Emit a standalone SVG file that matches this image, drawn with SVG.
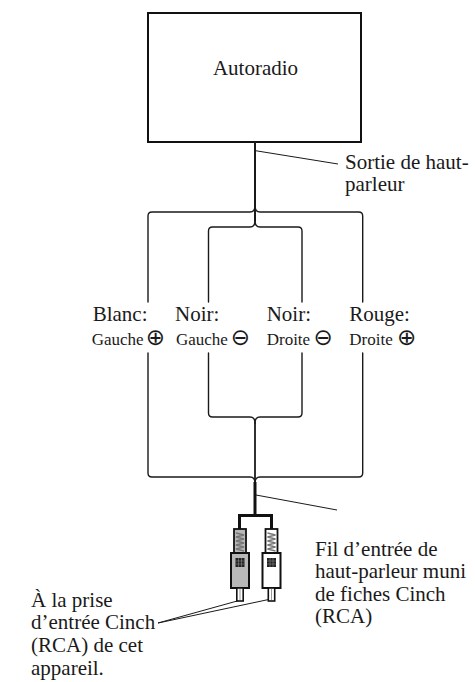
<svg xmlns="http://www.w3.org/2000/svg" width="475" height="682" viewBox="0 0 475 682">
<style>
text{font-family:"Liberation Serif","Times New Roman",serif;font-size:21px;fill:#1a1a1a}
.sm{font-size:17px}
.sym{font-family:"DejaVu Sans",sans-serif;font-size:23px}
.w{fill:none;stroke:#1a1a1a;stroke-width:1.4;stroke-linejoin:round;stroke-linecap:round}
.lead{fill:none;stroke:#1a1a1a;stroke-width:1}
</style>
<defs>
<g id="plugShape">
<rect x="-6" y="0" width="12" height="24" stroke="#111" stroke-width="1.8"/>
<path d="M-4,4 L4,6 L-4,8 L4,10 L-4,12 L4,14 L-4,16 L4,18 L-4,20 L4,22" fill="none" stroke="#777" stroke-width="1.4"/>
<path d="M-9,24 H9 V59 H-9 Z" stroke="#111" stroke-width="2"/>
<rect x="-4.5" y="29" width="9" height="9" fill="#222"/>
<path d="M-4.5,32 H4.5 M-4.5,35 H4.5 M-1.5,29 V38 M1.5,29 V38" stroke="#888" stroke-width="0.6"/>
<rect x="-3.2" y="59" width="6.4" height="13" fill="#fff" stroke="#111" stroke-width="1.6"/>
<line x1="0" y1="60" x2="0" y2="71" stroke="#999" stroke-width="1"/>
</g>
</defs>

<g id="autoradio">
<rect x="148" y="13" width="213" height="129" fill="#fff" stroke="#111" stroke-width="2"/>
<text x="255.5" y="75" text-anchor="middle">Autoradio</text>
</g>

<g id="connectors">
<path class="w" d="M255,142 V221" style="stroke-width:2"/>
<path class="w" d="M148,302 V216 Q148,212 152,212 H250 Q255,212 255,206"/>
<path class="w" d="M362.7,302 V216 Q362.7,212 358.7,212 H260 Q255,212 255,206"/>
<path class="w" d="M208.5,302 V231 Q208.5,227 212.5,227 H250 Q255,227 255,221"/>
<path class="w" d="M302,302 V231 Q302,227 298,227 H260 Q255,227 255,221"/>
<path class="w" d="M208.5,353 V413 Q208.5,417 212.5,417 H250 Q255,417 255,423"/>
<path class="w" d="M302,353 V413 Q302,417 298,417 H260 Q255,417 255,423"/>
<path class="w" d="M148,353 V473 Q148,477 152,477 H250 Q255,477 255,483"/>
<path class="w" d="M362.7,353 V473 Q362.7,477 358.7,477 H260 Q255,477 255,483"/>
<path class="w" d="M255,423 V483" style="stroke-width:1.8"/>
<path d="M255,482 V515.5" fill="none" stroke="#111" stroke-width="3"/>
<path d="M239.5,530 V515.5 H271.5 V530" fill="none" stroke="#111" stroke-width="3" stroke-linejoin="miter"/>
<line class="lead" x1="255.5" y1="150.7" x2="338" y2="164"/>
<line class="lead" x1="256" y1="495" x2="337" y2="510"/>
<line class="lead" x1="158" y1="623" x2="239" y2="600.5"/>
<line class="lead" x1="158" y1="623" x2="271" y2="599"/>
</g>

<g id="plug-left" transform="translate(240,529)">
<use href="#plugShape" fill="#b8b8b8"/>
</g>
<g id="plug-right" transform="translate(271.5,529)">
<use href="#plugShape" fill="#fff"/>
</g>

<g id="labels">
<text x="345" y="169">Sortie de haut-</text>
<text x="345" y="191">parleur</text>
<text x="92.7" y="320.7">Blanc:</text>
<text x="175" y="320.7">Noir:</text>
<text x="266.7" y="320.7">Noir:</text>
<text x="349.3" y="320.7">Rouge:</text>
<text class="sm" x="91.7" y="345">Gauche <tspan class="sym" dx="-2">⊕</tspan></text>
<text class="sm" x="176" y="345">Gauche <tspan class="sym" dx="-1.5">⊖</tspan></text>
<text class="sm" x="266.7" y="345">Droite <tspan class="sym" dx="-1">⊖</tspan></text>
<text class="sm" x="349.3" y="345">Droite <tspan class="sym">⊕</tspan></text>
<text x="315" y="555.5">Fil d’entrée de</text>
<text x="315" y="578">haut-parleur muni</text>
<text x="315" y="600.5">de fiches Cinch</text>
<text x="315" y="623">(RCA)</text>
<text x="31" y="606.5">À la prise</text>
<text x="31" y="629.2">d’entrée Cinch</text>
<text x="31" y="651.9">(RCA) de cet</text>
<text x="31" y="674.6">appareil.</text>
</g>
</svg>
